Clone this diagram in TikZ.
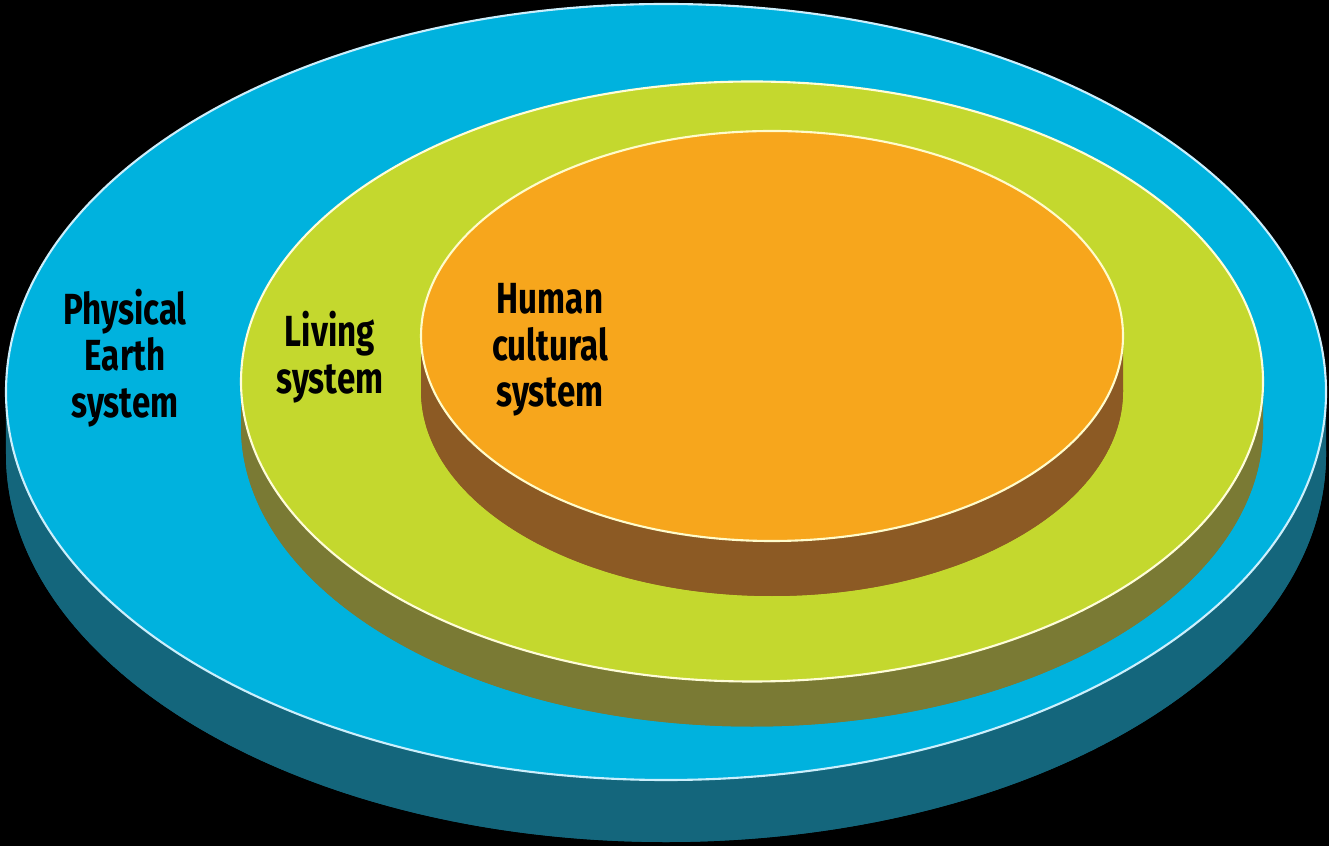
\documentclass[tikz,border=0pt]{standalone}
\usepackage{fontspec}
\setmainfont{Fira Sans}[FakeStretch=0.76]
\usepackage{tikz}
\usetikzlibrary{positioning}

\definecolor{earthtop}{RGB}{0,178,222}
\definecolor{earthside}{RGB}{20,102,124}
\definecolor{lifetop}{RGB}{196,216,46}
\definecolor{lifeside}{RGB}{122,122,52}
\definecolor{humantop}{RGB}{247,166,28}
\definecolor{humanside}{RGB}{140,90,36}

% disk: centre, x radius, y radius, depth, top, side, rim
\newcommand{\sysdisk}[7]{
  \begin{scope}[shift={(#1)}]
    \fill[#6] (-#2,0) -- (-#2,-#4) arc[start angle=180, end angle=360, x radius=#2, y radius=#3] -- (#2,0) -- cycle;
    \fill[#6] (0,-#4) ellipse[x radius=#2, y radius=#3];
    \filldraw[fill=#5, draw=#7, line width=0.6pt] (0,0) ellipse[x radius=#2, y radius=#3];
  \end{scope}
}

\begin{document}
\begin{tikzpicture}[
    sysname/.style={align=center, font=\bfseries\fontsize{12.4}{13.2}\selectfont, text=black, inner sep=0pt}
]
    \fill[black] (0,0) rectangle (13.29,8.46);

    \sysdisk{6.66,4.54}{6.60}{3.88}{0.62}{earthtop}{earthside}{cyan!20}
    \sysdisk{7.52,4.645}{5.11}{3.00}{0.45}{lifetop}{lifeside}{yellow!15}
    \sysdisk{7.72,5.10}{3.51}{2.05}{0.55}{humantop}{humanside}{yellow!20}

    \node[sysname] (earth) at (1.25,4.88) {Physical\\Earth\\system};
    \node[sysname] (living) at (3.30,4.89) {Living\\system};
    \node[sysname] (human) at (5.50,4.96) {Human\\cultural\\system};
\end{tikzpicture}
\end{document}
